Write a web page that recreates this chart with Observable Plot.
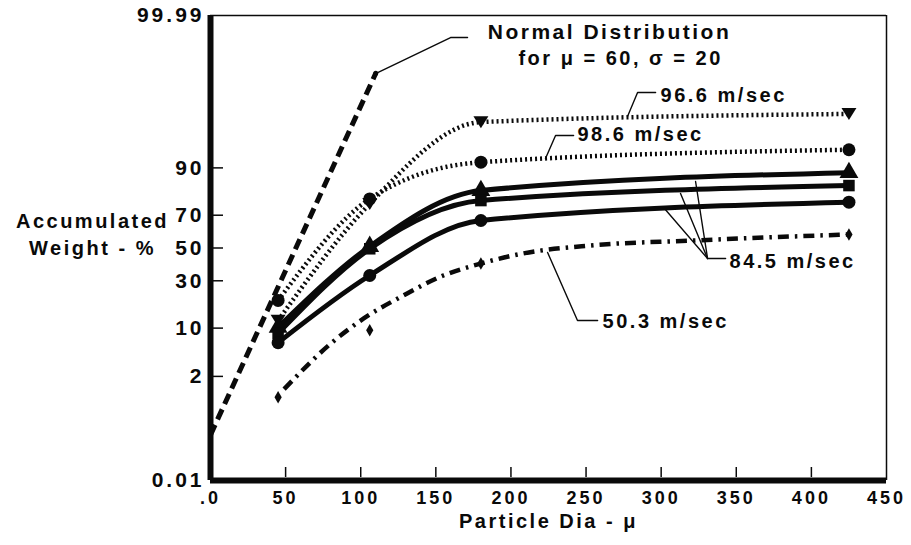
<!DOCTYPE html>
<html>
<head>
<meta charset="utf-8">
<script src="https://cdn.jsdelivr.net/npm/d3@7"></script>
<script src="https://cdn.jsdelivr.net/npm/@observablehq/plot@0.6"></script>
<style>
  body { margin: 0; background: #fff; }
  svg text { font-family: "Liberation Sans", Arial, Helvetica, sans-serif; font-weight: bold; letter-spacing: 2.5px; }
  g[aria-label="x-axis tick label"] text { letter-spacing: 3px; }
  g[aria-label="y-axis tick label"] text { letter-spacing: 3px; }
  g[aria-label="title note"] text { letter-spacing: 3.5px; }
</style>
</head>
<body>
<div id="chart"></div>
<script>
// ---- data (particle diameter in microns, accumulated weight in %) ----
const particleDia = [45, 106, 180, 425];
const weight966 = [12.3, 76, 97.8, 98.4];     // 96.6 m/sec (dotted, down triangles)
const weight986 = [20.1, 78.4, 91.5, 94.2];   // 98.6 m/sec (dotted, circles)
const weight845a = [10.2, 51, 82.1, 88.6];    // 84.5 m/sec (triangles)
const weight845b = [8.6, 49.5, 77.6, 84.1];   // 84.5 m/sec (squares)
const weight845c = [6.5, 33, 67, 76.8];       // 84.5 m/sec (circles)
const weight503 = [0.85, 9.4, 40.2, 58.6];    // 50.3 m/sec (diamonds)
// smooth curve drawn through the 50.3 m/sec data
const curve503Dia = [49, 80, 102, 128.5, 155, 180, 208, 253, 322, 425];
const curve503Weight = [1.2, 6.3, 13.0, 22.4, 33, 40.2, 46.5, 51.6, 54.8, 58.6];
// normal distribution line (mu = 60, sigma = 20)
const normalDia = [0, 110];
const normalWeight = [0.14, 99.74];
// ticks
const yTickValues = [0.01, 2, 10, 30, 50, 70, 90, 99.99];
const yInnerTicks = [2, 10, 30, 50, 70, 90];
const xTickValues = [0, 50, 100, 150, 200, 250, 300, 350, 400, 450];
const xTickLabels = [".0", "50", "100", "150", "200", "250", "300", "350", "400", "450"];
const xInnerTicks = [50, 100, 150, 200, 250, 300, 350, 400];
// annotations (anchor in data units: diameter, weight %)
const titleNotes = ["Normal Distribution", "for \u03bc = 60, \u03c3 = 20"];
const titleNoteDia = [265.6, 273];
const titleNoteWeight = [99.9715, 99.876];
const seriesNotes = ["96.6 m/sec", "98.6 m/sec", "84.5 m/sec", "50.3 m/sec"];
const seriesNoteDia = [299.6, 244.3, 345.5, 261];
const seriesNoteWeight = [99.26, 96.53, 41.45, 12.0];
const leaders = [
  [[109.9, 99.737], [159.8, 99.962], [171.1, 99.962]],
  [[277.6, 98.23], [284.3, 99.356], [296.3, 99.356]],
  [[223, 92.39], [229.7, 96.41], [241.7, 96.41]],
  [[301.6, 74.15], [330.9, 43.3]],
  [[312.9, 80.84], [330.9, 43.3]],
  [[322.9, 85.63], [330.9, 43.3], [342.9, 43.3]],
  [[224.4, 47.13], [244.3, 12.32], [257.7, 12.32]]
];

// ---- probability (probit) transform ----
function probit(p) {
  const a = [-3.969683028665376e+01, 2.209460984245205e+02, -2.759285104469687e+02, 1.383577518672690e+02, -3.066479806614716e+01, 2.506628277459239e+00];
  const b = [-5.447609879822406e+01, 1.615858368580409e+02, -1.556989798598866e+02, 6.680131188771972e+01, -1.328068155288572e+01];
  const c = [-7.784894002430293e-03, -3.223964580411365e-01, -2.400758277161838e+00, -2.549732539343734e+00, 4.374664141464968e+00, 2.938163982698783e+00];
  const d = [7.784695709041462e-03, 3.224671290700398e-01, 2.445134137142996e+00, 3.754408661907416e+00];
  const plow = 0.02425, phigh = 1 - plow;
  let q, r;
  if (p < plow) {
    q = Math.sqrt(-2 * Math.log(p));
    return (((((c[0]*q+c[1])*q+c[2])*q+c[3])*q+c[4])*q+c[5]) / ((((d[0]*q+d[1])*q+d[2])*q+d[3])*q+1);
  }
  if (p <= phigh) {
    q = p - 0.5; r = q * q;
    return (((((a[0]*r+a[1])*r+a[2])*r+a[3])*r+a[4])*r+a[5])*q / (((((b[0]*r+b[1])*r+b[2])*r+b[3])*r+b[4])*r+1);
  }
  q = Math.sqrt(-2 * Math.log(1 - p));
  return -(((((c[0]*q+c[1])*q+c[2])*q+c[3])*q+c[4])*q+c[5]) / ((((d[0]*q+d[1])*q+d[2])*q+d[3])*q+1);
}
const Y = (pct) => probit(pct / 100);
const yLabel = new Map(yTickValues.map(v => [Y(v), String(v)]));

const series = (vals) => vals.map((v, i) => ({x: particleDia[i], y: Y(v)}));
const triangleDown = {
  draw(ctx, size) {
    const r = Math.sqrt(size / Math.PI);
    ctx.moveTo(-1.15 * r, -0.9 * r);
    ctx.lineTo(1.15 * r, -0.9 * r);
    ctx.lineTo(0, 0.95 * r);
    ctx.closePath();
  }
};

const s966 = series(weight966), s986 = series(weight986);
const sA = series(weight845a), sB = series(weight845b), sC = series(weight845c);
const s503 = series(weight503);
const c503 = curve503Dia.map((x, i) => ({x, y: Y(curve503Weight[i])}));
const sNormal = normalDia.map((x, i) => ({x, y: Y(normalWeight[i])}));
const tNotes = titleNotes.map((t, i) => ({x: titleNoteDia[i], y: Y(titleNoteWeight[i]), t}));
const sNotes = seriesNotes.map((t, i) => ({x: seriesNoteDia[i], y: Y(seriesNoteWeight[i]), t}));
const leaderRows = leaders.flatMap((pts, k) => pts.map(([x, w]) => ({k, x, y: Y(w)})));

const ink = "#0a0a0a";
const lineStyle = {x: "x", y: "y", stroke: ink, strokeLinecap: "butt", strokeLinejoin: "round"};
const chart = Plot.plot({
  width: 911, height: 545,
  marginLeft: 210, marginRight: 25, marginTop: 15, marginBottom: 65,
  x: {domain: [0, 450], label: null},
  y: {domain: [Y(0.01), Y(99.99)], label: null},
  style: {background: "#fff", color: ink, overflow: "visible"},
  marks: [
    // frame
    Plot.ruleX([450], {stroke: ink, strokeWidth: 1.5}),
    Plot.ruleY([Y(99.99)], {stroke: ink, strokeWidth: 1.5}),
    Plot.tickY(yInnerTicks.map(Y), {stroke: ink, strokeWidth: 1.5, insetLeft: 3, insetRight: 663}),
    Plot.tickX(xInnerTicks, {stroke: ink, strokeWidth: 1.5, insetTop: 452, insetBottom: 3}),
    Plot.ruleX([0], {stroke: ink, strokeWidth: 6}),
    Plot.ruleY([Y(0.01)], {stroke: ink, strokeWidth: 6}),
    Plot.axisY(yTickValues.map(Y), {label: null, tickSize: 0, tickPadding: 6, tickFormat: z => yLabel.get(z), fontSize: 21, fill: ink}),
    Plot.axisX(xTickValues, {label: null, tickSize: 0, tickPadding: 11, tickFormat: (d) => xTickLabels[xTickValues.indexOf(d)], fontSize: 18, fill: ink}),
    // series lines
    Plot.line(sNormal, {...lineStyle, strokeWidth: 5, strokeDasharray: "11,6"}),
    Plot.line(s966, {...lineStyle, strokeWidth: 4.5, strokeDasharray: "2,3", curve: "monotone-x"}),
    Plot.line(s986, {...lineStyle, strokeWidth: 4.5, strokeDasharray: "2,3", curve: "monotone-x"}),
    Plot.line(sA, {...lineStyle, strokeWidth: 5, curve: "monotone-x"}),
    Plot.line(sB, {...lineStyle, strokeWidth: 5, curve: "monotone-x"}),
    Plot.line(sC, {...lineStyle, strokeWidth: 5, curve: "monotone-x"}),
    Plot.line(c503, {...lineStyle, strokeWidth: 4.5, strokeDasharray: "11,6,2.5,6", curve: "monotone-x"}),
    // markers
    Plot.dot(sNormal.slice(-1), {x: "x", y: "y", r: 2.5, fill: ink}),
    Plot.dot(s966, {x: "x", y: "y", symbol: triangleDown, r: 6.5, fill: ink}),
    Plot.dot(s986, {x: "x", y: "y", symbol: "circle", r: 6.5, fill: ink}),
    Plot.dot(sA, {x: "x", y: "y", symbol: "triangle", r: 7, fill: ink}),
    Plot.dot(sB, {x: "x", y: "y", symbol: "square", r: 6.5, fill: ink}),
    Plot.dot(sC, {x: "x", y: "y", symbol: "circle", r: 6.5, fill: ink}),
    Plot.dot(s503, {x: "x", y: "y", symbol: "diamond", r: 3.8, fill: ink}),
    // leaders and labels
    Plot.line(leaderRows, {x: "x", y: "y", z: "k", stroke: ink, strokeWidth: 1.4}),
    Plot.text(tNotes.slice(0, 1), {x: "x", y: "y", text: "t", textAnchor: "middle", fontSize: 21, fill: ink, ariaLabel: "title note"}),
    Plot.text(tNotes.slice(1), {x: "x", y: "y", text: "t", textAnchor: "middle", fontSize: 20, fill: ink}),
    Plot.text(sNotes, {x: "x", y: "y", text: "t", textAnchor: "start", fontSize: 20, fill: ink}),
    Plot.text(["Accumulated\nWeight - %"], {frameAnchor: "left", textAnchor: "middle", dx: -118, dy: -15, fontSize: 20, lineHeight: 1.35, fill: ink}),
    Plot.text(["Particle Dia - \u03bc"], {frameAnchor: "bottom", textAnchor: "middle", dy: 47, fontSize: 20, fill: ink})
  ]
});
document.getElementById("chart").appendChild(chart);
</script>
</body>
</html>
